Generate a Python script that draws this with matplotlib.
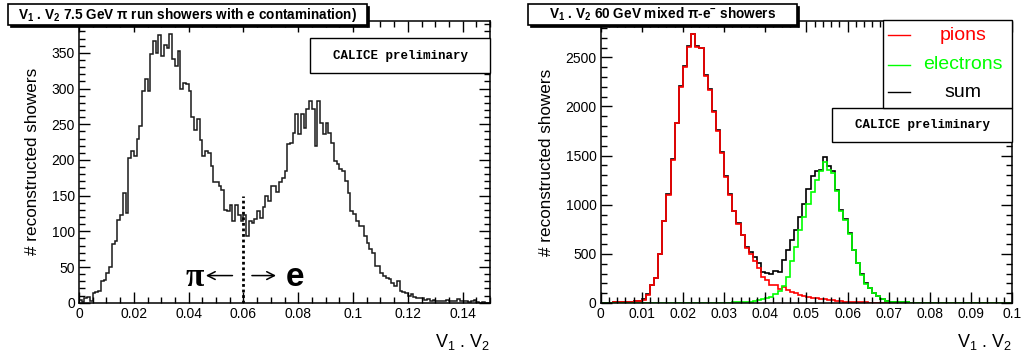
import numpy as np
import matplotlib
matplotlib.use("Agg")
import matplotlib.pyplot as plt
from matplotlib.patches import Rectangle
from matplotlib.ticker import MultipleLocator, FuncFormatter

plt.rcParams['font.family'] = ['Liberation Sans', 'DejaVu Sans']
plt.rcParams['mathtext.default'] = 'regular'

# left panel: 7.5 GeV pi run, V1.V2 in bins of 0.001 from 0 to 0.15
run_range = (0.0, 0.15)
run_counts = [4, 1, 6, 8, 2, 14, 15, 16, 31, 32,
              41, 50, 82, 87, 116, 123, 153, 125, 203, 212,
              205, 230, 247, 297, 314, 297, 348, 366, 350, 375,
              346, 361, 357, 377, 341, 331, 352, 300, 308, 307,
              296, 260, 242, 258, 228, 205, 212, 209, 191, 169,
              169, 163, 158, 130, 128, 137, 114, 137, 123, 114,
              123, 93, 114, 111, 117, 128, 119, 134, 150, 142,
              164, 163, 155, 169, 174, 184, 222, 224, 238, 265,
              236, 264, 245, 272, 282, 271, 219, 282, 252, 236,
              252, 238, 224, 198, 194, 187, 184, 170, 154, 128,
              124, 114, 108, 107, 93, 83, 75, 70, 52, 51,
              42, 38, 35, 33, 28, 23, 30, 16, 15, 14,
              9, 12, 8, 7, 6, 7, 4, 5, 3, 4,
              3, 2, 3, 2, 4, 3, 2, 3, 5, 2,
              3, 2, 1, 2, 4, 1, 0, 1, 0, 0]
cut_value = 0.06
cut_height = 150

# right panel: 60 GeV mixed pi-e, bins of 0.001 from 0 to 0.1
mix_range = (0.0, 0.1)
pions = [0, 0, 2, 8, 10, 10, 12, 15, 20, 22,
         34, 85, 180, 254, 498, 830, 1101, 1457, 1829, 2202,
         2405, 2608, 2734, 2608, 2591, 2310, 2168, 1948, 1751, 1531,
         1287, 1101, 932, 803, 688, 559, 498, 430, 356, 265,
         230, 186, 180, 146, 163, 136, 112, 98, 85, 75,
         65, 55, 48, 42, 36, 30, 26, 22, 18, 15,
         12, 10, 8, 6, 5, 4, 3, 3, 2, 2,
         2, 2, 1, 1, 1, 1, 1, 1, 0, 1,
         0, 1, 0, 0, 1, 0, 0, 0, 1, 0,
         0, 0, 0, 0, 0, 0, 0, 0, 0, 0]
electrons = [0, 0, 0, 0, 0, 0, 0, 0, 0, 0,
             1, 1, 1, 1, 1, 1, 1, 1, 1, 1,
             1, 1, 2, 2, 2, 2, 2, 2, 2, 3,
             3, 4, 5, 6, 8, 10, 14, 20, 30, 45,
             55, 65, 90, 125, 175, 260, 430, 570, 740, 880,
             1010, 1130, 1250, 1340, 1430, 1350, 1320, 1140, 940, 840,
             705, 535, 405, 285, 198, 148, 98, 68, 40, 24,
             15, 10, 8, 6, 5, 4, 3, 3, 3, 2,
             2, 2, 2, 2, 2, 2, 1, 1, 1, 1,
             1, 1, 1, 1, 1, 1, 1, 1, 0, 0]
total = [0, 0, 2, 8, 10, 10, 12, 15, 20, 22,
         36, 88, 182, 256, 502, 834, 1106, 1462, 1834, 2208,
         2410, 2612, 2740, 2614, 2596, 2316, 2174, 1952, 1756, 1538,
         1294, 1108, 940, 812, 696, 570, 520, 468, 405, 320,
         305, 300, 328, 320, 440, 540, 640, 740, 880, 1010,
         1160, 1290, 1340, 1350, 1484, 1390, 1340, 1152, 950, 850,
         712, 542, 407, 290, 203, 152, 102, 68, 40, 25,
         15, 10, 8, 6, 5, 4, 3, 3, 3, 2,
         2, 2, 2, 2, 2, 2, 1, 1, 1, 1,
         1, 1, 1, 1, 1, 1, 1, 1, 0, 0]


def style(ax, xmaj, xmin, ymaj, ymin):
    ax.xaxis.set_major_locator(MultipleLocator(xmaj))
    ax.xaxis.set_minor_locator(MultipleLocator(xmin))
    ax.yaxis.set_major_locator(MultipleLocator(ymaj))
    ax.yaxis.set_minor_locator(MultipleLocator(ymin))
    ax.xaxis.set_major_formatter(FuncFormatter(lambda v, p: '%g' % round(v, 6)))
    ax.tick_params(which='both', direction='in', top=True, right=True, width=1)
    ax.tick_params(which='major', length=8, labelsize=10, pad=3)
    ax.tick_params(which='minor', length=4)
    for s in ax.spines.values():
        s.set_linewidth(1.1)
    ax.set_ylabel('# reconstructed showers', fontsize=12.3, labelpad=8)
    ax.set_xlabel('V$_1$ . V$_2$', loc='right', fontsize=13, labelpad=8)


def calice_box(ax, x0, y0, w, h):
    ax.add_patch(Rectangle((x0, y0), w, h, transform=ax.transAxes, facecolor='white',
                           edgecolor='black', lw=1, zorder=5, clip_on=False))
    ax.text(x0 + w / 2, y0 + h / 2, 'CALICE preliminary', transform=ax.transAxes,
            ha='center', va='center', fontsize=9, fontweight='bold',
            family=['Liberation Mono', 'DejaVu Sans Mono'], zorder=6)


def title_box(fig, x0, x1, text):
    # ROOT-style pave with a small shadow
    fig.add_artist(Rectangle(((x0 + 2) / 1022, 1 - 27 / 351), (x1 - x0) / 1022, 21 / 351,
                             transform=fig.transFigure, facecolor='black',
                             edgecolor='black', lw=0.5, zorder=9))
    fig.add_artist(Rectangle((x0 / 1022, 1 - 25 / 351), (x1 - x0) / 1022, 21 / 351,
                             transform=fig.transFigure, facecolor='white',
                             edgecolor='black', lw=1.2, zorder=10))
    fig.text((x0 + x1) / 2 / 1022, 1 - 14.5 / 351, text, ha='center', va='center',
             fontsize=9.8, fontweight='bold', zorder=11)


fig = plt.figure(figsize=(10.22, 3.51), dpi=100)
ax1 = fig.add_axes([0.0773, 0.1376, 0.4022, 0.8034])
ax2 = fig.add_axes([0.5877, 0.1368, 0.4027, 0.8034])

# left
edges1 = np.linspace(run_range[0], run_range[1], len(run_counts) + 1)
ax1.stairs(run_counts, edges1, color='#1a1a1a', lw=1.1)
ax1.set_xlim(*run_range)
ax1.set_ylim(0, 395)
style(ax1, 0.02, 0.005, 50, 10)
ax1.vlines(cut_value, 0, cut_height, color='black', lw=2, linestyles=(0, (1, 1)))
ax1.text(0.0423, 36, 'π', fontsize=24, fontweight='bold', ha='center', va='center',
         family=['Liberation Serif', 'DejaVu Serif'])
ax1.text(0.0790, 36, 'e', fontsize=24, fontweight='bold', ha='center', va='center')
arrow = dict(arrowstyle='->,head_length=0.55,head_width=0.28', lw=1.1,
             shrinkA=0, shrinkB=0)
ax1.annotate('', xy=(0.0463, 38), xytext=(0.0560, 38), arrowprops=arrow)
ax1.annotate('', xy=(0.0719, 38), xytext=(0.0631, 38), arrowprops=arrow)
calice_box(ax1, 0.562, 0.8145, 0.438, 0.1242)

# right
edges2 = np.linspace(mix_range[0], mix_range[1], len(pions) + 1)
ax2.stairs(total, edges2, color='black', lw=1.2)
ax2.stairs(pions, edges2, color='#ff0000', lw=1.2)
ax2.stairs(electrons, edges2, color='#00ff00', lw=1.2)
ax2.set_xlim(*mix_range)
ax2.set_ylim(0, 2870)
style(ax2, 0.01, 0.002, 500, 100)
calice_box(ax2, 0.562, 0.571, 0.438, 0.12)

# legend
ax2.add_patch(Rectangle((0.686, 0.691), 0.314, 0.312, transform=ax2.transAxes,
                        facecolor='white', edgecolor='black', lw=1, zorder=5, clip_on=False))
for name, col, yy in [('pions', '#ff0000', 0.950), ('electrons', '#00ff00', 0.844),
                      ('sum', 'black', 0.748)]:
    ax2.plot([0.698, 0.751], [yy, yy], color=col, lw=1, transform=ax2.transAxes,
             zorder=6, clip_on=False)
    ax2.text(0.880, yy, name, color=col, fontsize=14, ha='center', va='center',
             transform=ax2.transAxes, zorder=6)

title_box(fig, 8, 367, 'V$_1$ . V$_2$ 7.5 GeV π run showers with e contamination)')
title_box(fig, 528, 797, 'V$_1$ . V$_2$ 60 GeV mixed π-e$^{-}$ showers')

fig.savefig('out.png', dpi=100)
